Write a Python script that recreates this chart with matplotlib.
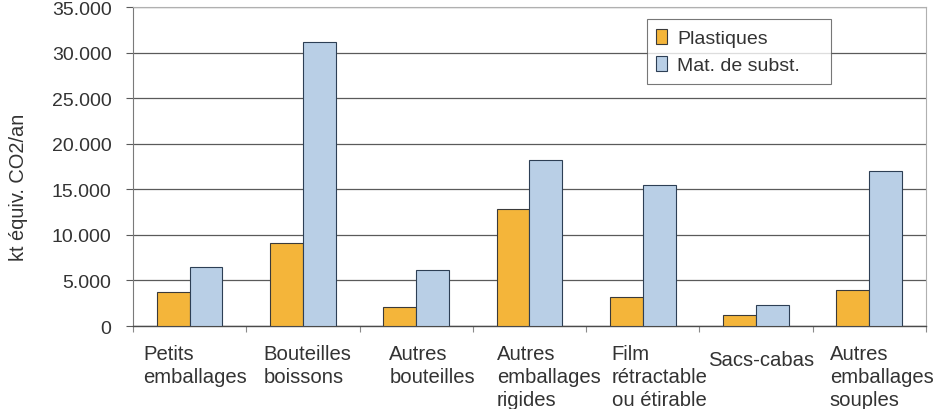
import matplotlib.pyplot as plt
import numpy as np
from matplotlib.ticker import FuncFormatter, MultipleLocator
from matplotlib.transforms import blended_transform_factory

plt.rcParams["font.family"] = ["Liberation Sans", "DejaVu Sans"]

categories = [
    "Petits\nemballages",
    "Bouteilles\nboissons",
    "Autres\nbouteilles",
    "Autres\nemballages\nrigides",
    "Film\nrétractable\nou étirable",
    "Sacs-cabas",
    "Autres\nemballages\nsouples",
]
plastiques = [3700, 9100, 2050, 12800, 3150, 1250, 3950]
substitution = [6500, 31200, 6150, 18250, 15450, 2300, 17050]
series_labels = ["Plastiques", "Mat. de subst."]

# small horizontal nudges (in category units) for the wrapped labels
label_nudge = [0.05, 0.04, 0.14, 0.17, 0.15, 0.05, 0.11]

fig = plt.figure(figsize=(9.38, 4.10), dpi=100)
ax = fig.add_axes([0.1418, 0.2024, 0.8452, 0.7776])

x = np.arange(len(categories))
width = 0.29
ax.bar(x - 0.145, plastiques, width, color="#F4B53A", edgecolor="#3a3a3a",
       linewidth=0.8, label=series_labels[0], zorder=3)
ax.bar(x + 0.145, substitution, width, color="#B9CFE6", edgecolor="#2d3f55",
       linewidth=0.8, label=series_labels[1], zorder=3)

ax.set_xlim(-0.5, len(categories) - 0.5)
ax.set_ylim(0, 35000)
ax.yaxis.set_major_locator(MultipleLocator(5000))
ax.yaxis.set_major_formatter(
    FuncFormatter(lambda v, _: f"{int(v):,}".replace(",", "."))
)
ax.grid(axis="y", color="#5a5a5a", linewidth=0.9, zorder=0)

for side in ("top", "right"):
    ax.spines[side].set_color("#b0b0b0")
    ax.spines[side].set_linewidth(0.8)
ax.spines["left"].set_color("#7a7a7a")
ax.spines["bottom"].set_color("#4a4a4a")
ax.spines["left"].set_linewidth(0.8)
ax.spines["bottom"].set_linewidth(1.0)

ax.tick_params(axis="y", length=5, width=0.8, color="#5a5a5a", pad=10.5,
               labelsize=14, labelcolor="#333333")

# category boundaries as ticks, labels drawn as text below the axis
ax.set_xticks(np.arange(len(categories) + 1) - 0.5)
ax.set_xticklabels([])
ax.tick_params(axis="x", length=4, width=0.8, color="#8a8a8a")

trans = blended_transform_factory(ax.transData, ax.transAxes)
for i, name in enumerate(categories):
    y_off = -0.0745 if name == "Sacs-cabas" else -0.0557
    ax.text(i + label_nudge[i], y_off, name, transform=trans, ha="center",
            va="top", multialignment="left", fontsize=14.6, color="#333333",
            linespacing=1.29)

fig.text(18 / 938, 0.543, "kt équiv. CO2/an", rotation=90, ha="center",
         va="center", fontsize=14.4, color="#333333")

leg = ax.legend(loc="upper left", bbox_to_anchor=(0.648, 0.962, 0.233, 0.0),
                mode="expand", fontsize=14, frameon=True, fancybox=False,
                handlelength=0.55, handleheight=0.8, handletextpad=0.5,
                borderpad=0.5, labelspacing=0.45, borderaxespad=0)
leg.get_frame().set_edgecolor("#555555")
leg.get_frame().set_linewidth(0.8)
for t in leg.get_texts():
    t.set_color("#333333")

fig.savefig("out.png", dpi=100)
